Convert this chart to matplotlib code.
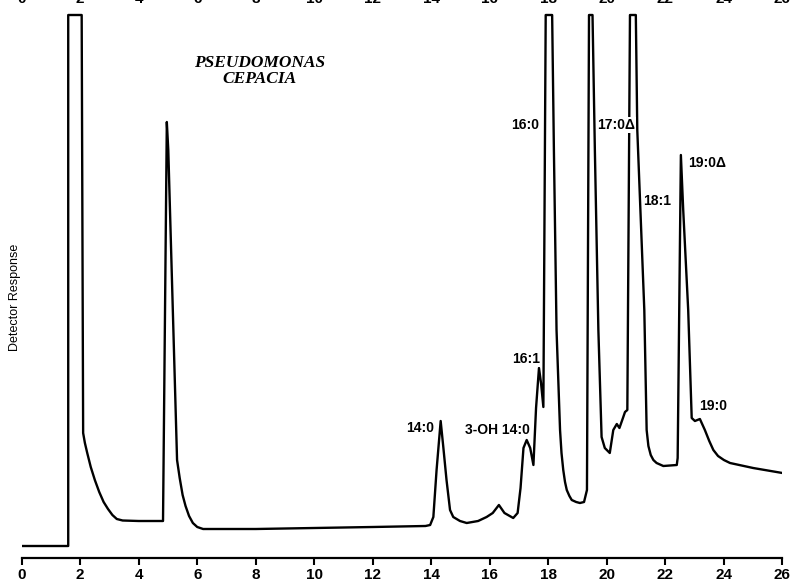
import matplotlib
matplotlib.use('Agg')
import matplotlib.pyplot as plt

# retention time (min) and detector response
time = [0.0, 1.59, 1.59, 2.05, 2.10, 2.16, 2.24, 2.36, 2.5, 2.65, 2.8, 2.95, 3.1,
        3.25, 3.45, 4.0, 4.83,
        4.96, 5.01, 5.31, 5.4, 5.5, 5.6, 5.72, 5.85, 6.0, 6.2, 8.0, 10.0, 12.0, 13.8,
        13.96, 14.07, 14.18, 14.32, 14.41, 14.52, 14.64, 14.75, 14.98, 15.21,
        15.6, 15.89, 16.1, 16.31, 16.5, 16.8, 16.95, 17.05, 17.15, 17.26, 17.38,
        17.49, 17.58, 17.68, 17.75, 17.83, 17.91, 18.13, 18.19, 18.28, 18.4,
        18.45, 18.51, 18.57, 18.63, 18.72, 18.8, 18.95, 19.08, 19.22, 19.32,
        19.39, 19.51, 19.59, 19.71, 19.82, 19.93, 20.1, 20.22, 20.34, 20.43,
        20.55, 20.62, 20.70, 20.79, 20.99, 21.04, 21.28, 21.36, 21.42, 21.5,
        21.59, 21.7, 21.93, 22.39, 22.42, 22.53, 22.61, 22.78, 22.9, 23.01,
        23.18, 23.35, 23.5, 23.64, 23.8, 24.0, 24.21, 25.0, 26.0]
response = [12, 12, 543, 543, 125, 115, 105, 91, 78, 66, 56, 49, 43,
            39, 37.5, 37, 37,
            436, 408, 98, 80, 63, 52, 42, 35, 31, 29, 29, 30, 31, 32,
            33, 41, 88, 137, 111, 78, 48, 41, 37, 35,
            37, 41, 45, 53, 45, 40, 45, 70, 110, 118, 110,
            93, 150, 190, 175, 151, 543, 543, 408, 228, 128,
            105, 88, 76, 68, 62, 58, 56, 55, 56, 68,
            543, 543, 408, 228, 121, 110, 105, 128, 134, 130,
            140, 146, 148, 543, 543, 428, 248, 128, 112, 103,
            98, 95, 92, 93, 100, 403, 348, 248, 140, 137,
            139, 128, 117, 108, 102, 98, 95, 90, 85]

peak_names = ['14:0', '3-OH 14:0', '16:1', '16:0', '17:0\u0394', '18:1', '19:0\u0394', '19:0']
label_t = [14.09, 17.37, 17.71, 17.69, 19.66, 21.24, 22.77, 23.15]
label_r = [130, 128, 199, 433, 433, 357, 395, 152]
label_ha = ['right', 'right', 'right', 'right', 'left', 'left', 'left', 'left']

ticks = list(range(0, 27, 2))

fig = plt.figure(figsize=(7.9, 5.81), dpi=100)
ax = fig.add_axes([21.7 / 790, 23 / 581, 760.7 / 790, 545 / 581])

ax.plot(time, response, color='black', lw=1.7, solid_joinstyle='round')

ax.set_xlim(0, 26)
ax.set_ylim(0, 545)
ax.set_yticks([])
for s in ['left', 'right', 'top']:
    ax.spines[s].set_visible(False)
ax.spines['bottom'].set_linewidth(1.6)
ax.set_xticks(ticks)
ax.set_xticklabels([str(t) for t in ticks], fontfamily='Liberation Sans',
                   fontweight='bold', fontsize=11)
ax.tick_params(axis='x', direction='out', length=5, width=1.5, pad=2)

top = ax.secondary_xaxis('top')
top.set_xticks(ticks)
top.set_xticklabels([str(t) for t in ticks], fontfamily='Liberation Sans',
                    fontweight='bold', fontsize=11)
top.tick_params(length=0, pad=5)
top.spines['top'].set_visible(False)

for name, t, r, ha in zip(peak_names, label_t, label_r, label_ha):
    ax.text(t, r, name, ha=ha, va='center', fontsize=10, fontweight='bold',
            family=['Liberation Sans', 'DejaVu Sans'],
            bbox=dict(facecolor='white', edgecolor='none', pad=0.5))

ax.text(8.13, 487, 'PSEUDOMONAS\nCEPACIA', ha='center', va='center',
        fontsize=12.5, family='Liberation Serif', style='italic',
        fontweight='bold', linespacing=1.05)

fig.text(15 / 790, 1 - 297 / 581, 'Detector Response', rotation=90,
         ha='center', va='center', fontsize=9, family='Liberation Sans')

fig.savefig('out.png', dpi=100)
